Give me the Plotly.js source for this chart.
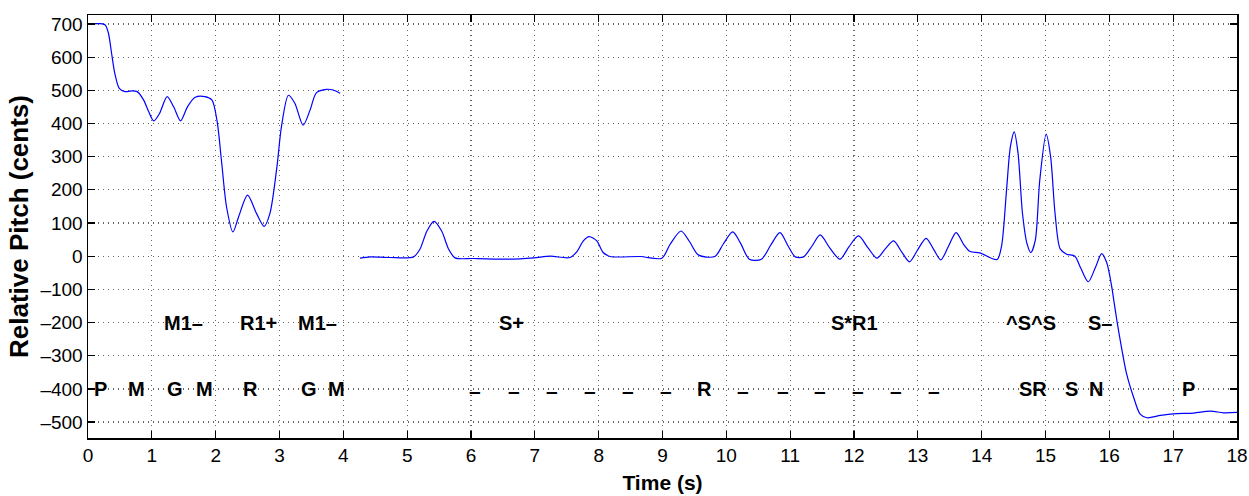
<!DOCTYPE html>
<html>
<head>
<meta charset="utf-8">
<script src="https://cdn.plot.ly/plotly-3.0.1.min.js"></script>
<style>html,body{margin:0;padding:0;background:#fff;}#chart{width:1249px;height:496px;}</style>
</head>
<body>
<div id="chart"></div>
<script>
// Pitch contour, segment 1 (time in s, pitch in cents)
var seg1Time = [0, 0.19, 0.27, 0.32, 0.37, 0.42, 0.49, 0.58, 0.68, 0.77, 0.87, 0.95, 1.03, 1.12, 1.24, 1.34, 1.45, 1.56, 1.68, 1.83, 1.94, 2.02, 2.09, 2.17, 2.27, 2.36, 2.50, 2.64, 2.76, 2.85, 2.96, 3.03, 3.14, 3.24, 3.37, 3.48, 3.58, 3.74, 3.84, 3.95];
var seg1Cents = [700, 701, 697, 672, 611, 551, 506, 496, 498, 496, 471, 436, 408, 430, 481, 451, 408, 451, 479, 481, 471, 410, 290, 149, 73, 119, 184, 129, 90, 129, 270, 390, 485, 461, 395, 441, 493, 503, 501, 491];

// Pitch contour, segment 2
var seg2Time = [4.26, 4.42, 4.73, 5.10, 5.20, 5.31, 5.42, 5.54, 5.65, 5.75, 6.04, 6.56, 6.98, 7.24, 7.55, 7.66, 7.76, 7.85, 7.97, 8.07, 8.18, 8.65, 8.99, 9.12, 9.29, 9.42, 9.56, 9.82, 9.95, 10.10, 10.22, 10.36, 10.55, 10.70, 10.84, 10.97, 11.08, 11.21, 11.34, 11.47, 11.62, 11.78, 11.92, 12.07, 12.22, 12.36, 12.49, 12.62, 12.75, 12.87, 13.00, 13.13, 13.25, 13.36, 13.48, 13.60, 13.72, 13.82, 13.97, 14.24, 14.31, 14.39, 14.45, 14.51, 14.57, 14.64, 14.71, 14.77, 14.84, 14.91, 15.01, 15.08, 15.15, 15.23, 15.33, 15.46, 15.55, 15.67, 15.78, 15.88, 15.96, 16.04, 16.07, 16.12, 16.17, 16.27, 16.38, 16.48, 16.59, 16.80, 17.00, 17.32, 17.58, 17.79, 18.00];
var seg2Cents = [-6, -2, -4, -2, 21, 76, 105, 76, 21, -5, -7, -9, -5, 0, -4, 14, 46, 59, 46, 11, -1, -1, -6, 36, 76, 45, 4, -1, 36, 73, 40, -9, -9, 35, 71, 30, -2, -2, 30, 64, 25, -9, 28, 61, 25, -6, 22, 46, 12, -17, 20, 54, 20, -11, 30, 71, 35, 14, 10, -10, 29, 200, 330, 375, 310, 128, 38, 11, 48, 229, 368, 300, 128, 22, 6, 0, -35, -77, -35, 8, -20, -95, -133, -196, -253, -354, -425, -475, -487, -480, -475, -473, -467, -472, -471];

// Notation labels
var upperLabels = ["M1–", "R1+", "M1–", "S+", "S*R1", "^S^S", "S–"];
var upperTimes = [1.49, 2.67, 3.59, 6.63, 12.0, 14.78, 15.86];
var upperLevel = -200;

var lowerLabels = ["P", "M", "G", "M", "R", "G", "M", "–", "–", "–", "–", "–", "–", "R", "–", "–", "–", "–", "–", "–", "SR", "S", "N", "P"];
var lowerTimes = [0.20, 0.76, 1.36, 1.82, 2.55, 3.46, 3.90, 6.07, 6.67, 7.27, 7.86, 8.46, 9.05, 9.66, 10.26, 10.88, 11.47, 12.07, 12.66, 13.26, 14.80, 15.40, 15.79, 17.24];
var lowerLevel = -400;

var xTicks = [0,1,2,3,4,5,6,7,8,9,10,11,12,13,14,15,16,17,18];
var yTicks = [-500,-400,-300,-200,-100,0,100,200,300,400,500,600,700];

var font = '"Liberation Sans", Arial, Helvetica, sans-serif';

var lineStyle = {color: '#0000ff', width: 1.2, shape: 'spline', smoothing: 0.8};
var traces = [
  {x: seg1Time, y: seg1Cents, type: 'scatter', mode: 'lines', line: lineStyle, hoverinfo: 'skip'},
  {x: seg2Time, y: seg2Cents, type: 'scatter', mode: 'lines', line: lineStyle, hoverinfo: 'skip'}
];

var annotations = [];
function addLabels(labels, times, level) {
  for (var i = 0; i < labels.length; i++) {
    var isDash = labels[i] === '–';
    annotations.push({
      x: times[i], y: level, xref: 'x', yref: 'y', text: '<b>' + labels[i] + '</b>',
      showarrow: false, xanchor: 'center', yanchor: 'middle', yshift: isDash ? -2 : 0,
      font: {family: font, size: isDash ? 21 : 20, color: '#000'}
    });
  }
}
addLabels(upperLabels, upperTimes, upperLevel);
addLabels(lowerLabels, lowerTimes, lowerLevel);

var axisCommon = {
  showline: true, linecolor: '#000', linewidth: 1.5, mirror: 'ticks',
  ticks: 'inside', ticklen: 7, tickwidth: 1.2, tickcolor: '#000',
  showgrid: true, gridcolor: '#666', griddash: '1px,4px', gridwidth: 1.2,
  zeroline: false, tickfont: {family: font, size: 19, color: '#000'}
};

var layout = {
  width: 1249, height: 496,
  margin: {l: 88, r: 12, t: 15, b: 58},
  paper_bgcolor: '#fff', plot_bgcolor: '#fff',
  showlegend: false,
  xaxis: Object.assign({}, axisCommon, {
    range: [0, 18], tickmode: 'array', tickvals: xTicks, ticktext: xTicks.map(String),
    title: {text: '<b>Time (s)</b>', font: {family: font, size: 21, color: '#000'}, standoff: 10}
  }),
  yaxis: Object.assign({}, axisCommon, {
    range: [-548, 727], tickmode: 'array', tickvals: yTicks,
    ticktext: yTicks.map(function(v){ return v < 0 ? '\u2013' + Math.abs(v) : String(v); }),
    title: {text: '<b>Relative Pitch (cents)</b>', font: {family: font, size: 26, color: '#000'}, standoff: 4}
  }),
  annotations: annotations
};

Plotly.newPlot('chart', traces, layout, {staticPlot: true, displayModeBar: false});
</script>
</body>
</html>
